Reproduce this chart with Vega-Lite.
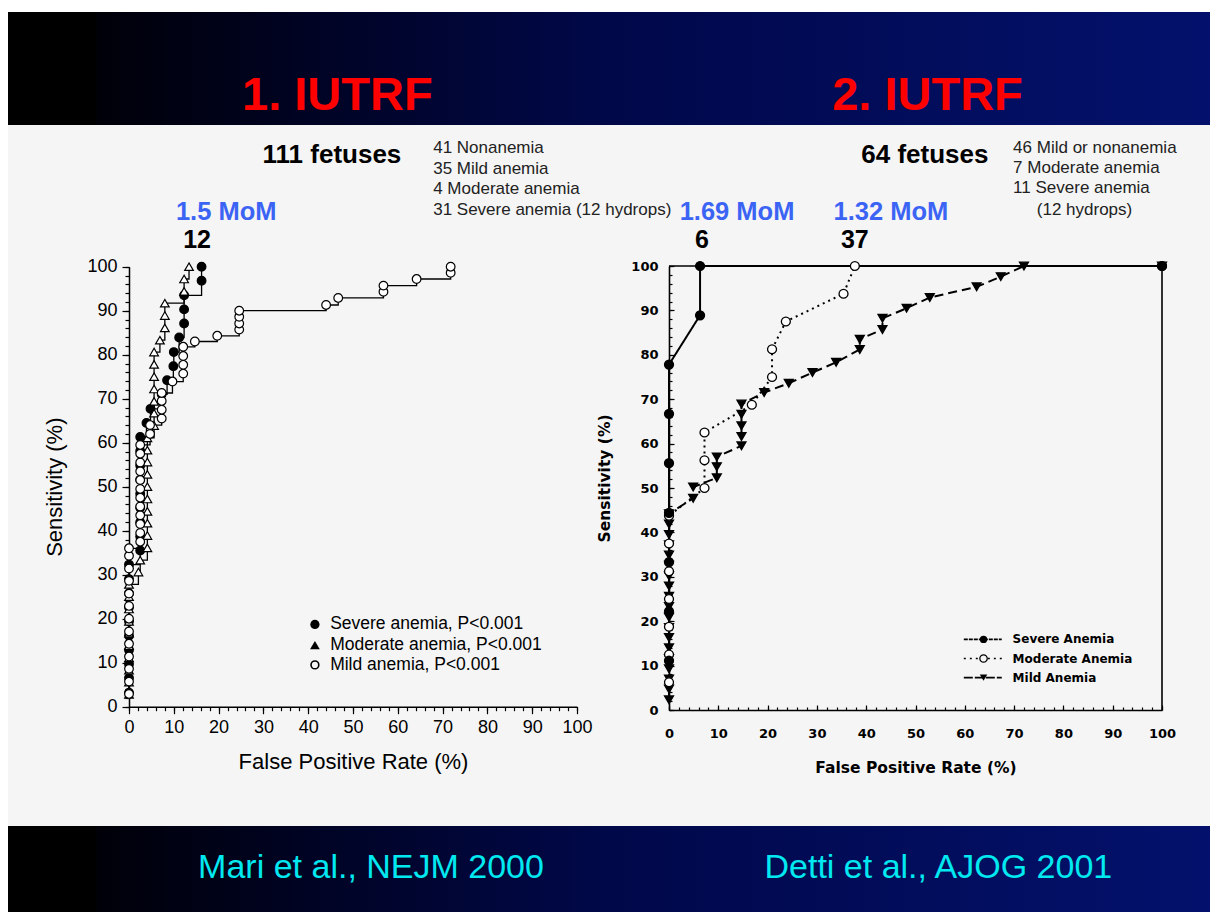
{
  "$schema": "https://vega.github.io/schema/vega-lite/v6.json",
  "background": "white",
  "padding": {"left": 8, "top": 12, "right": 0, "bottom": 2},
  "spacing": 0,
  "config": {"view": {"stroke": null}, "concat": {"spacing": 0}},
  "datasets": {
    "left": [
      {"g":"Severe","fpr":0,"sens":3.2},{"g":"Severe","fpr":0,"sens":6.5},{"g":"Severe","fpr":0,"sens":9.7},{"g":"Severe","fpr":0,"sens":12.9},{"g":"Severe","fpr":0,"sens":16.1},{"g":"Severe","fpr":0,"sens":19.4},{"g":"Severe","fpr":0,"sens":22.6},{"g":"Severe","fpr":0,"sens":25.8},{"g":"Severe","fpr":0,"sens":29.0},{"g":"Severe","fpr":0,"sens":32.3},{"g":"Severe","fpr":2.5,"sens":35.5},{"g":"Severe","fpr":2.5,"sens":38.7},{"g":"Severe","fpr":2.5,"sens":41.9},{"g":"Severe","fpr":2.5,"sens":45.2},{"g":"Severe","fpr":2.5,"sens":48.4},{"g":"Severe","fpr":2.5,"sens":51.6},{"g":"Severe","fpr":2.5,"sens":54.8},{"g":"Severe","fpr":2.5,"sens":58.1},{"g":"Severe","fpr":2.5,"sens":61.3},{"g":"Severe","fpr":3.9,"sens":64.5},{"g":"Severe","fpr":4.8,"sens":67.7},{"g":"Severe","fpr":7.3,"sens":71.0},{"g":"Severe","fpr":8.5,"sens":74.2},{"g":"Severe","fpr":9.9,"sens":77.4},{"g":"Severe","fpr":10.0,"sens":80.6},{"g":"Severe","fpr":11.2,"sens":83.9},{"g":"Severe","fpr":12.3,"sens":87.1},{"g":"Severe","fpr":12.3,"sens":90.3},{"g":"Severe","fpr":12.3,"sens":93.5},{"g":"Severe","fpr":16.2,"sens":96.8},{"g":"Severe","fpr":16.2,"sens":100},
      {"g":"Moderate","fpr":0,"sens":2.8},{"g":"Moderate","fpr":0,"sens":5.6},{"g":"Moderate","fpr":0,"sens":8.3},{"g":"Moderate","fpr":0,"sens":11.1},{"g":"Moderate","fpr":0,"sens":13.9},{"g":"Moderate","fpr":0,"sens":16.7},{"g":"Moderate","fpr":0,"sens":19.4},{"g":"Moderate","fpr":0,"sens":22.2},{"g":"Moderate","fpr":0,"sens":25.0},{"g":"Moderate","fpr":0,"sens":27.8},{"g":"Moderate","fpr":2.1,"sens":30.6},{"g":"Moderate","fpr":2.5,"sens":33.3},{"g":"Moderate","fpr":4.1,"sens":36.1},{"g":"Moderate","fpr":4.1,"sens":38.9},{"g":"Moderate","fpr":4.1,"sens":41.7},{"g":"Moderate","fpr":4.1,"sens":44.4},{"g":"Moderate","fpr":4.1,"sens":47.2},{"g":"Moderate","fpr":4.1,"sens":50.0},{"g":"Moderate","fpr":4.1,"sens":52.8},{"g":"Moderate","fpr":4.1,"sens":55.6},{"g":"Moderate","fpr":4.1,"sens":58.3},{"g":"Moderate","fpr":4.1,"sens":61.1},{"g":"Moderate","fpr":5.6,"sens":63.9},{"g":"Moderate","fpr":5.6,"sens":66.7},{"g":"Moderate","fpr":5.6,"sens":69.4},{"g":"Moderate","fpr":5.6,"sens":72.2},{"g":"Moderate","fpr":5.6,"sens":75.0},{"g":"Moderate","fpr":5.6,"sens":77.8},{"g":"Moderate","fpr":5.6,"sens":80.6},{"g":"Moderate","fpr":6.9,"sens":83.3},{"g":"Moderate","fpr":8.0,"sens":86.1},{"g":"Moderate","fpr":8.0,"sens":88.9},{"g":"Moderate","fpr":8.0,"sens":91.7},{"g":"Moderate","fpr":12.3,"sens":94.4},{"g":"Moderate","fpr":12.3,"sens":97.2},{"g":"Moderate","fpr":13.4,"sens":100},
      {"g":"Mild","fpr":0,"sens":2.9},{"g":"Mild","fpr":0,"sens":5.7},{"g":"Mild","fpr":0,"sens":8.6},{"g":"Mild","fpr":0,"sens":11.4},{"g":"Mild","fpr":0,"sens":14.3},{"g":"Mild","fpr":0,"sens":17.1},{"g":"Mild","fpr":0,"sens":20.0},{"g":"Mild","fpr":0,"sens":22.9},{"g":"Mild","fpr":0,"sens":25.7},{"g":"Mild","fpr":0,"sens":28.6},{"g":"Mild","fpr":0,"sens":31.4},{"g":"Mild","fpr":0,"sens":34.3},{"g":"Mild","fpr":0,"sens":36.0},{"g":"Mild","fpr":2.5,"sens":37.5},{"g":"Mild","fpr":2.5,"sens":39.5},{"g":"Mild","fpr":2.5,"sens":41.5},{"g":"Mild","fpr":2.5,"sens":43.5},{"g":"Mild","fpr":2.5,"sens":45.5},{"g":"Mild","fpr":2.5,"sens":47.5},{"g":"Mild","fpr":2.5,"sens":49.5},{"g":"Mild","fpr":2.5,"sens":51.5},{"g":"Mild","fpr":2.5,"sens":53.5},{"g":"Mild","fpr":2.5,"sens":55.5},{"g":"Mild","fpr":2.5,"sens":57.5},{"g":"Mild","fpr":2.5,"sens":59.5},{"g":"Mild","fpr":4.7,"sens":62.0},{"g":"Mild","fpr":4.7,"sens":64.0},{"g":"Mild","fpr":7.3,"sens":65.5},{"g":"Mild","fpr":7.3,"sens":67.5},{"g":"Mild","fpr":7.3,"sens":69.5},{"g":"Mild","fpr":7.3,"sens":71.3},{"g":"Mild","fpr":9.7,"sens":73.9},{"g":"Mild","fpr":12.1,"sens":75.7},{"g":"Mild","fpr":12.1,"sens":77.7},{"g":"Mild","fpr":12.1,"sens":79.7},{"g":"Mild","fpr":12.1,"sens":81.8},{"g":"Mild","fpr":14.7,"sens":83.0},{"g":"Mild","fpr":19.7,"sens":84.3},{"g":"Mild","fpr":24.6,"sens":85.7},{"g":"Mild","fpr":24.6,"sens":87.1},{"g":"Mild","fpr":24.6,"sens":88.6},{"g":"Mild","fpr":24.6,"sens":90.0},{"g":"Mild","fpr":44.0,"sens":91.3},{"g":"Mild","fpr":46.7,"sens":92.9},{"g":"Mild","fpr":56.8,"sens":94.3},{"g":"Mild","fpr":56.8,"sens":95.7},{"g":"Mild","fpr":64.2,"sens":97.2},{"g":"Mild","fpr":71.8,"sens":98.6},{"g":"Mild","fpr":71.8,"sens":100}
    ],
    "right": [
      {"g":"Mild","fpr":0,"sens":2.3},{"g":"Mild","fpr":0,"sens":4.7},{"g":"Mild","fpr":0,"sens":7.0},{"g":"Mild","fpr":0,"sens":9.3},{"g":"Mild","fpr":0,"sens":11.6},{"g":"Mild","fpr":0,"sens":14.0},{"g":"Mild","fpr":0,"sens":16.3},{"g":"Mild","fpr":0,"sens":18.6},{"g":"Mild","fpr":0,"sens":20.9},{"g":"Mild","fpr":0,"sens":23.3},{"g":"Mild","fpr":0,"sens":25.6},{"g":"Mild","fpr":0,"sens":27.9},{"g":"Mild","fpr":0,"sens":30.2},{"g":"Mild","fpr":0,"sens":32.6},{"g":"Mild","fpr":0,"sens":34.9},{"g":"Mild","fpr":0,"sens":37.2},{"g":"Mild","fpr":0,"sens":39.5},{"g":"Mild","fpr":0,"sens":41.9},{"g":"Mild","fpr":0,"sens":44.2},{"g":"Mild","fpr":4.9,"sens":47.7},{"g":"Mild","fpr":4.9,"sens":50.2},{"g":"Mild","fpr":9.7,"sens":52.3},{"g":"Mild","fpr":9.7,"sens":54.8},{"g":"Mild","fpr":9.7,"sens":57.0},{"g":"Mild","fpr":14.7,"sens":59.5},{"g":"Mild","fpr":14.7,"sens":61.6},{"g":"Mild","fpr":14.7,"sens":64.0},{"g":"Mild","fpr":14.7,"sens":66.6},{"g":"Mild","fpr":14.7,"sens":68.9},{"g":"Mild","fpr":19.3,"sens":71.5},{"g":"Mild","fpr":24.3,"sens":73.6},{"g":"Mild","fpr":29.1,"sens":76.0},{"g":"Mild","fpr":33.9,"sens":78.3},{"g":"Mild","fpr":38.7,"sens":81.2},{"g":"Mild","fpr":38.7,"sens":83.5},{"g":"Mild","fpr":43.3,"sens":85.7},{"g":"Mild","fpr":43.3,"sens":88.2},{"g":"Mild","fpr":48.2,"sens":90.5},{"g":"Mild","fpr":52.9,"sens":92.9},{"g":"Mild","fpr":62.4,"sens":95.3},{"g":"Mild","fpr":67.3,"sens":97.6},{"g":"Mild","fpr":72.0,"sens":100},{"g":"Mild","fpr":100,"sens":100},
      {"g":"Moderate","fpr":0,"sens":6.25},{"g":"Moderate","fpr":0,"sens":12.5},{"g":"Moderate","fpr":0,"sens":18.75},{"g":"Moderate","fpr":0,"sens":25.0},{"g":"Moderate","fpr":0,"sens":31.25},{"g":"Moderate","fpr":0,"sens":37.5},{"g":"Moderate","fpr":0,"sens":43.75},{"g":"Moderate","fpr":7.2,"sens":50.0},{"g":"Moderate","fpr":7.2,"sens":56.25},{"g":"Moderate","fpr":7.2,"sens":62.5},{"g":"Moderate","fpr":16.8,"sens":68.75},{"g":"Moderate","fpr":20.9,"sens":75.0},{"g":"Moderate","fpr":20.9,"sens":81.25},{"g":"Moderate","fpr":23.7,"sens":87.5},{"g":"Moderate","fpr":35.4,"sens":93.75},{"g":"Moderate","fpr":37.7,"sens":100},{"g":"Moderate","fpr":100,"sens":100},
      {"g":"Severe","fpr":0,"sens":11.1},{"g":"Severe","fpr":0,"sens":22.2},{"g":"Severe","fpr":0,"sens":33.3},{"g":"Severe","fpr":0,"sens":44.4},{"g":"Severe","fpr":0,"sens":55.6},{"g":"Severe","fpr":0,"sens":66.7},{"g":"Severe","fpr":0,"sens":77.8},{"g":"Severe","fpr":6.3,"sens":88.9},{"g":"Severe","fpr":6.3,"sens":100},{"g":"Severe","fpr":100,"sens":100}
    ]
  },
  "vconcat": [
    {
      "width": 1202,
      "height": 113,
      "layer": [
        {
          "data": {"values": [{"band": "title"}]},
          "mark": {"type": "rect", "color": {"x1": 0, "y1": 0, "x2": 1, "y2": 0, "gradient": "linear", "stops": [{"offset": 0, "color": "#000000"}, {"offset": 0.073, "color": "#000000"}, {"offset": 0.074, "color": "#000008"}, {"offset": 0.5, "color": "#000849"}, {"offset": 1, "color": "#03116c"}]}},
          "encoding": {
            "x": {"datum": 0, "type": "quantitative", "scale": {"domain": [0, 100], "nice": false, "zero": false}, "axis": null},
            "x2": {"datum": 100},
            "y": {"datum": 0, "type": "quantitative", "scale": {"domain": [0, 100], "nice": false, "zero": false}, "axis": null},
            "y2": {"datum": 100}
          }
        },
        {
          "data": {"values": [{"t": "1. IUTRF"}]},
          "mark": {"type": "text", "font": "Liberation Sans", "fontWeight": "bold", "fontSize": 47, "color": "#ff0000", "align": "center", "baseline": "alphabetic"},
          "encoding": {"x": {"datum": 27.4}, "y": {"datum": 13.3}, "text": {"field": "t"}}
        },
        {
          "data": {"values": [{"t": "2. IUTRF"}]},
          "mark": {"type": "text", "font": "Liberation Sans", "fontWeight": "bold", "fontSize": 47, "color": "#ff0000", "align": "center", "baseline": "alphabetic"},
          "encoding": {"x": {"datum": 76.5}, "y": {"datum": 13.3}, "text": {"field": "t"}}
        }
      ]
    },
    {
      "width": 1202,
      "height": 701,
      "view": {"fill": "#f5f5f5", "stroke": null},
      "resolve": {"scale": {"x": "independent", "y": "independent", "shape": "independent", "fill": "independent", "strokeDash": "independent"}},
      "layer": [
        {
          "resolve": {"axis": {"x": "independent", "y": "independent"}},
          "layer": [
            {
              "data": {"name": "left"},
              "mark": {"type": "line", "interpolate": "step-after", "color": "black", "strokeWidth": 1.3},
              "encoding": {
                "x": {"field": "fpr", "type": "quantitative",
                  "scale": {"domain": [0, 100], "range": [121, 569], "nice": false, "zero": false},
                  "axis": {"title": "False Positive Rate (%)", "orient": "bottom", "offset": -119.3,
                    "values": [0,10,20,30,40,50,60,70,80,90,100], "tickSize": 7,
                    "tickColor": "black", "tickWidth": 1.2, "domainColor": "black", "domainWidth": 1.5, "grid": false,
                    "labelFont": "Liberation Sans", "labelFontSize": 18, "labelColor": "black", "labelPadding": 5,
                    "labelFlush": false, "labelOverlap": false, "labelBound": false,
                    "titleFont": "Liberation Sans", "titleFontSize": 22, "titleFontWeight": "normal", "titleColor": "black", "titlePadding": 15}
                },
                "y": {"field": "sens", "type": "quantitative",
                  "scale": {"domain": [0, 100], "range": [581.7, 141.7], "nice": false, "zero": false},
                  "axis": {"title": "Sensitivity (%)", "orient": "left", "offset": -121,
                    "values": [0,10,20,30,40,50,60,70,80,90,100], "tickSize": 7,
                    "tickColor": "black", "tickWidth": 1.2, "domainColor": "black", "domainWidth": 1.5, "grid": false,
                    "labelFont": "Liberation Sans", "labelFontSize": 18, "labelColor": "black", "labelPadding": 5,
                    "labelFlush": false, "labelOverlap": false, "labelBound": false,
                    "titleFont": "Liberation Sans", "titleFontSize": 22, "titleFontWeight": "normal", "titleColor": "black", "titlePadding": 20}
                },
                "detail": {"field": "g", "type": "nominal"},
                "order": {"value": null}
              }
            },
            {
              "data": {"name": "left"},
              "mark": {"type": "point", "opacity": 1, "size": 75, "strokeWidth": 1.2},
              "encoding": {
                "x": {"field": "fpr", "type": "quantitative",
                  "axis": {"title": null, "orient": "bottom", "offset": -119.3, "labels": false, "domain": false, "grid": false,
                    "values": [0,2,4,6,8,10,12,14,16,18,20,22,24,26,28,30,32,34,36,38,40,42,44,46,48,50,52,54,56,58,60,62,64,66,68,70,72,74,76,78,80,82,84,86,88,90,92,94,96,98,100],
                    "tickSize": 4, "tickColor": "black", "tickWidth": 1.2}},
                "y": {"field": "sens", "type": "quantitative",
                  "axis": {"title": null, "orient": "left", "offset": -121, "labels": false, "domain": false, "grid": false,
                    "values": [0,2,4,6,8,10,12,14,16,18,20,22,24,26,28,30,32,34,36,38,40,42,44,46,48,50,52,54,56,58,60,62,64,66,68,70,72,74,76,78,80,82,84,86,88,90,92,94,96,98,100],
                    "tickSize": 4, "tickColor": "black", "tickWidth": 1.2}},
                "shape": {"field": "g", "type": "nominal", "scale": {"domain": ["Severe", "Moderate", "Mild"], "range": ["circle", "triangle-up", "circle"]}, "legend": null},
                "fill": {"field": "g", "type": "nominal", "scale": {"domain": ["Severe", "Moderate", "Mild"], "range": ["black", "white", "white"]}, "legend": null},
                "stroke": {"value": "black"}
              }
            },
            {
              "data": {"values": [{"g": "Severe"}]},
              "mark": {"type": "point", "shape": "circle", "filled": true, "color": "black", "opacity": 1, "size": 85},
              "encoding": {"x": {"datum": 41.5, "axis": null}, "y": {"datum": 18.7, "axis": null}}
            },
            {
              "data": {"values": [{"g": "Moderate"}]},
              "mark": {"type": "point", "shape": "triangle-up", "filled": true, "color": "black", "opacity": 1, "size": 95},
              "encoding": {"x": {"datum": 41.5, "axis": null}, "y": {"datum": 14.0, "axis": null}}
            },
            {
              "data": {"values": [{"g": "Mild"}]},
              "mark": {"type": "point", "shape": "circle", "filled": false, "color": "black", "opacity": 1, "size": 60, "strokeWidth": 1.6},
              "encoding": {"x": {"datum": 41.5, "axis": null}, "y": {"datum": 9.5, "axis": null}}
            },
            {
              "data": {"values": [{"k": "legend"}]},
              "mark": {"type": "text", "font": "Liberation Sans", "fontSize": 17.5, "align": "left", "baseline": "middle", "lineHeight": 20.5, "color": "black"},
              "encoding": {"x": {"datum": 44.9, "axis": null}, "y": {"datum": 18.7, "axis": null}, "text": {"value": ["Severe anemia, P<0.001", "Moderate anemia, P<0.001", "Mild anemia, P<0.001"]}}
            },
            {
              "data": {"values": [{"t": "111 fetuses"}]},
              "mark": {"type": "text", "font": "Liberation Sans", "fontWeight": "bold", "fontSize": 26, "align": "center", "baseline": "middle", "color": "black"},
              "encoding": {"x": {"datum": 45.3, "axis": null}, "y": {"datum": 125.4, "axis": null}, "text": {"field": "t"}}
            },
            {
              "data": {"values": [{"k": "groups"}]},
              "mark": {"type": "text", "font": "Liberation Sans", "fontSize": 17, "align": "left", "baseline": "middle", "lineHeight": 20.5, "color": "#222222"},
              "encoding": {"x": {"datum": 67.9, "axis": null}, "y": {"datum": 126.9, "axis": null}, "text": {"value": ["41 Nonanemia", "35 Mild anemia", "4 Moderate anemia", "31 Severe anemia (12 hydrops)"]}}
            },
            {
              "data": {"values": [{"t": "1.5 MoM"}]},
              "mark": {"type": "text", "font": "Liberation Sans", "fontWeight": "bold", "fontSize": 25.5, "align": "center", "baseline": "middle", "color": "#3c64f4"},
              "encoding": {"x": {"datum": 21.7, "axis": null}, "y": {"datum": 112.4, "axis": null}, "text": {"field": "t"}}
            },
            {
              "data": {"values": [{"t": "12"}]},
              "mark": {"type": "text", "font": "Liberation Sans", "fontWeight": "bold", "fontSize": 25, "align": "center", "baseline": "middle", "color": "black"},
              "encoding": {"x": {"datum": 15.2, "axis": null}, "y": {"datum": 106.0, "axis": null}, "text": {"field": "t"}}
            }
          ]
        },
        {
          "resolve": {"axis": {"x": "independent", "y": "independent"}},
          "layer": [
            {
              "data": {"name": "right"},
              "mark": {"type": "line", "color": "black", "strokeWidth": 2},
              "encoding": {
                "x": {"field": "fpr", "type": "quantitative",
                  "scale": {"domain": [0, 100], "range": [661, 1154], "nice": false, "zero": false},
                  "axis": {"title": "False Positive Rate (%)", "orient": "bottom", "offset": -116,
                    "values": [0,10,20,30,40,50,60,70,80,90,100], "tickSize": -5,
                    "tickColor": "black", "tickWidth": 1.2, "domainColor": "black", "domainWidth": 1.6, "grid": false,
                    "labelFont": "DejaVu Sans", "labelFontWeight": "bold", "labelFontSize": 13, "labelColor": "black", "labelPadding": 22,
                    "labelFlush": false, "labelOverlap": false, "labelBound": false,
                    "titleFont": "DejaVu Sans", "titleFontSize": 15.5, "titleFontWeight": "bold", "titleColor": "black", "titlePadding": 20}
                },
                "y": {"field": "sens", "type": "quantitative",
                  "scale": {"domain": [0, 100], "range": [585, 141], "nice": false, "zero": false},
                  "axis": {"title": "Sensitivity (%)", "orient": "left", "offset": -661,
                    "values": [0,10,20,30,40,50,60,70,80,90,100], "tickSize": -5,
                    "tickColor": "black", "tickWidth": 1.2, "domainColor": "black", "domainWidth": 1.6, "grid": false,
                    "labelFont": "DejaVu Sans", "labelFontWeight": "bold", "labelFontSize": 13, "labelColor": "black", "labelPadding": 16,
                    "labelFlush": false, "labelOverlap": false, "labelBound": false,
                    "titleFont": "DejaVu Sans", "titleFontSize": 15.5, "titleFontWeight": "bold", "titleColor": "black", "titlePadding": 18, "titleY": 353}
                },
                "strokeDash": {"field": "g", "type": "nominal", "scale": {"domain": ["Severe", "Moderate", "Mild"], "range": [[1, 0], [2, 4], [9, 5]]}, "legend": null},
                "order": {"value": null}
              }
            },
            {
              "data": {"values": [{"edge": "top"}]},
              "mark": {"type": "rule", "color": "black", "strokeWidth": 1.6},
              "encoding": {"x": {"datum": 0, "axis": null}, "x2": {"datum": 100}, "y": {"datum": 100, "axis": null}}
            },
            {
              "data": {"values": [{"edge": "right"}]},
              "mark": {"type": "rule", "color": "black", "strokeWidth": 1.6},
              "encoding": {"x": {"datum": 100, "axis": null}, "y": {"datum": 0, "axis": null}, "y2": {"datum": 100}}
            },
            {
              "data": {"name": "right"},
              "mark": {"type": "point", "opacity": 1, "size": 80, "strokeWidth": 1.3},
              "encoding": {
                "x": {"field": "fpr", "type": "quantitative",
                  "axis": {"title": null, "orient": "bottom", "offset": -116, "labels": false, "domain": false, "grid": false,
                    "values": [0,2,4,6,8,10,12,14,16,18,20,22,24,26,28,30,32,34,36,38,40,42,44,46,48,50,52,54,56,58,60,62,64,66,68,70,72,74,76,78,80,82,84,86,88,90,92,94,96,98,100],
                    "tickSize": -3, "tickColor": "black", "tickWidth": 1.2}},
                "y": {"field": "sens", "type": "quantitative",
                  "axis": {"title": null, "orient": "left", "offset": -661, "labels": false, "domain": false, "grid": false,
                    "values": [0,2,4,6,8,10,12,14,16,18,20,22,24,26,28,30,32,34,36,38,40,42,44,46,48,50,52,54,56,58,60,62,64,66,68,70,72,74,76,78,80,82,84,86,88,90,92,94,96,98,100],
                    "tickSize": -3, "tickColor": "black", "tickWidth": 1.2}},
                "shape": {"field": "g", "type": "nominal", "scale": {"domain": ["Severe", "Moderate", "Mild"], "range": ["circle", "circle", "triangle-down"]}, "legend": null},
                "fill": {"field": "g", "type": "nominal", "scale": {"domain": ["Severe", "Moderate", "Mild"], "range": ["black", "white", "black"]}, "legend": null},
                "stroke": {"value": "black"}
              }
            },
            {
              "data": {"values": [{"g": "Severe"}]},
              "mark": {"type": "rule", "color": "black", "strokeWidth": 1.6, "strokeDash": [4, 1]},
              "encoding": {"x": {"datum": 59.8, "axis": null}, "x2": {"datum": 67.5}, "y": {"datum": 15.9, "axis": null}}
            },
            {
              "data": {"values": [{"g": "Moderate"}]},
              "mark": {"type": "rule", "color": "black", "strokeWidth": 1.6, "strokeDash": [2, 4]},
              "encoding": {"x": {"datum": 59.8, "axis": null}, "x2": {"datum": 67.5}, "y": {"datum": 11.6, "axis": null}}
            },
            {
              "data": {"values": [{"g": "Mild"}]},
              "mark": {"type": "rule", "color": "black", "strokeWidth": 1.6, "strokeDash": [9, 2]},
              "encoding": {"x": {"datum": 59.8, "axis": null}, "x2": {"datum": 67.5}, "y": {"datum": 7.3, "axis": null}}
            },
            {
              "data": {"values": [{"g": "Severe"}]},
              "mark": {"type": "point", "shape": "circle", "filled": true, "color": "black", "opacity": 1, "size": 55},
              "encoding": {"x": {"datum": 63.8, "axis": null}, "y": {"datum": 15.9, "axis": null}}
            },
            {
              "data": {"values": [{"g": "Moderate"}]},
              "mark": {"type": "point", "shape": "circle", "filled": true, "fill": "#f5f5f5", "stroke": "black", "strokeWidth": 1.3, "opacity": 1, "size": 55},
              "encoding": {"x": {"datum": 63.8, "axis": null}, "y": {"datum": 11.6, "axis": null}}
            },
            {
              "data": {"values": [{"g": "Mild"}]},
              "mark": {"type": "point", "shape": "triangle-down", "filled": true, "color": "black", "opacity": 1, "size": 55},
              "encoding": {"x": {"datum": 63.8, "axis": null}, "y": {"datum": 7.3, "axis": null}}
            },
            {
              "data": {"values": [{"k": "legend"}]},
              "mark": {"type": "text", "font": "DejaVu Sans", "fontWeight": "bold", "fontSize": 12, "align": "left", "baseline": "middle", "lineHeight": 19.3, "color": "black"},
              "encoding": {"x": {"datum": 69.7, "axis": null}, "y": {"datum": 15.9, "axis": null}, "text": {"value": ["Severe Anemia", "Moderate Anemia", "Mild Anemia"]}}
            },
            {
              "data": {"values": [{"t": "64 fetuses"}]},
              "mark": {"type": "text", "font": "Liberation Sans", "fontWeight": "bold", "fontSize": 26, "align": "center", "baseline": "middle", "color": "black"},
              "encoding": {"x": {"datum": 51.9, "axis": null}, "y": {"datum": 125.0, "axis": null}, "text": {"field": "t"}}
            },
            {
              "data": {"values": [{"k": "groups"}]},
              "mark": {"type": "text", "font": "Liberation Sans", "fontSize": 17, "align": "left", "baseline": "middle", "lineHeight": 20.2, "color": "#222222"},
              "encoding": {"x": {"datum": 69.8, "axis": null}, "y": {"datum": 126.6, "axis": null}, "text": {"value": ["46 Mild or nonanemia", "7 Moderate anemia", "11 Severe anemia"]}}
            },
            {
              "data": {"values": [{"t": "(12 hydrops)"}]},
              "mark": {"type": "text", "font": "Liberation Sans", "fontSize": 17, "align": "left", "baseline": "middle", "color": "#222222"},
              "encoding": {"x": {"datum": 74.6, "axis": null}, "y": {"datum": 112.6, "axis": null}, "text": {"field": "t"}}
            },
            {
              "data": {"values": [{"t": "1.69 MoM"}]},
              "mark": {"type": "text", "font": "Liberation Sans", "fontWeight": "bold", "fontSize": 25.5, "align": "center", "baseline": "middle", "color": "#3c64f4"},
              "encoding": {"x": {"datum": 13.8, "axis": null}, "y": {"datum": 112.2, "axis": null}, "text": {"field": "t"}}
            },
            {
              "data": {"values": [{"t": "1.32 MoM"}]},
              "mark": {"type": "text", "font": "Liberation Sans", "fontWeight": "bold", "fontSize": 25.5, "align": "center", "baseline": "middle", "color": "#3c64f4"},
              "encoding": {"x": {"datum": 45.0, "axis": null}, "y": {"datum": 112.2, "axis": null}, "text": {"field": "t"}}
            },
            {
              "data": {"values": [{"t": "6"}]},
              "mark": {"type": "text", "font": "Liberation Sans", "fontWeight": "bold", "fontSize": 25, "align": "center", "baseline": "middle", "color": "black"},
              "encoding": {"x": {"datum": 6.7, "axis": null}, "y": {"datum": 105.9, "axis": null}, "text": {"field": "t"}}
            },
            {
              "data": {"values": [{"t": "37"}]},
              "mark": {"type": "text", "font": "Liberation Sans", "fontWeight": "bold", "fontSize": 25, "align": "center", "baseline": "middle", "color": "black"},
              "encoding": {"x": {"datum": 37.7, "axis": null}, "y": {"datum": 105.9, "axis": null}, "text": {"field": "t"}}
            }
          ]
        }
      ]
    },
    {
      "width": 1202,
      "height": 86,
      "layer": [
        {
          "data": {"values": [{"band": "citation"}]},
          "mark": {"type": "rect", "color": {"x1": 0, "y1": 0, "x2": 1, "y2": 0, "gradient": "linear", "stops": [{"offset": 0, "color": "#000000"}, {"offset": 0.073, "color": "#000000"}, {"offset": 0.074, "color": "#000008"}, {"offset": 0.5, "color": "#000849"}, {"offset": 1, "color": "#03116c"}]}},
          "encoding": {
            "x": {"datum": 0, "type": "quantitative", "scale": {"domain": [0, 100], "nice": false, "zero": false}, "axis": null},
            "x2": {"datum": 100},
            "y": {"datum": 0, "type": "quantitative", "scale": {"domain": [0, 100], "nice": false, "zero": false}, "axis": null},
            "y2": {"datum": 100}
          }
        },
        {
          "data": {"values": [{"t": "Mari et al., NEJM 2000"}]},
          "mark": {"type": "text", "font": "Liberation Sans", "fontSize": 34, "color": "#00e8f0", "align": "center", "baseline": "alphabetic"},
          "encoding": {"x": {"datum": 30.2}, "y": {"datum": 39.5}, "text": {"field": "t"}}
        },
        {
          "data": {"values": [{"t": "Detti et al., AJOG 2001"}]},
          "mark": {"type": "text", "font": "Liberation Sans", "fontSize": 34, "color": "#00e8f0", "align": "center", "baseline": "alphabetic"},
          "encoding": {"x": {"datum": 77.4}, "y": {"datum": 39.5}, "text": {"field": "t"}}
        }
      ]
    }
  ]
}
